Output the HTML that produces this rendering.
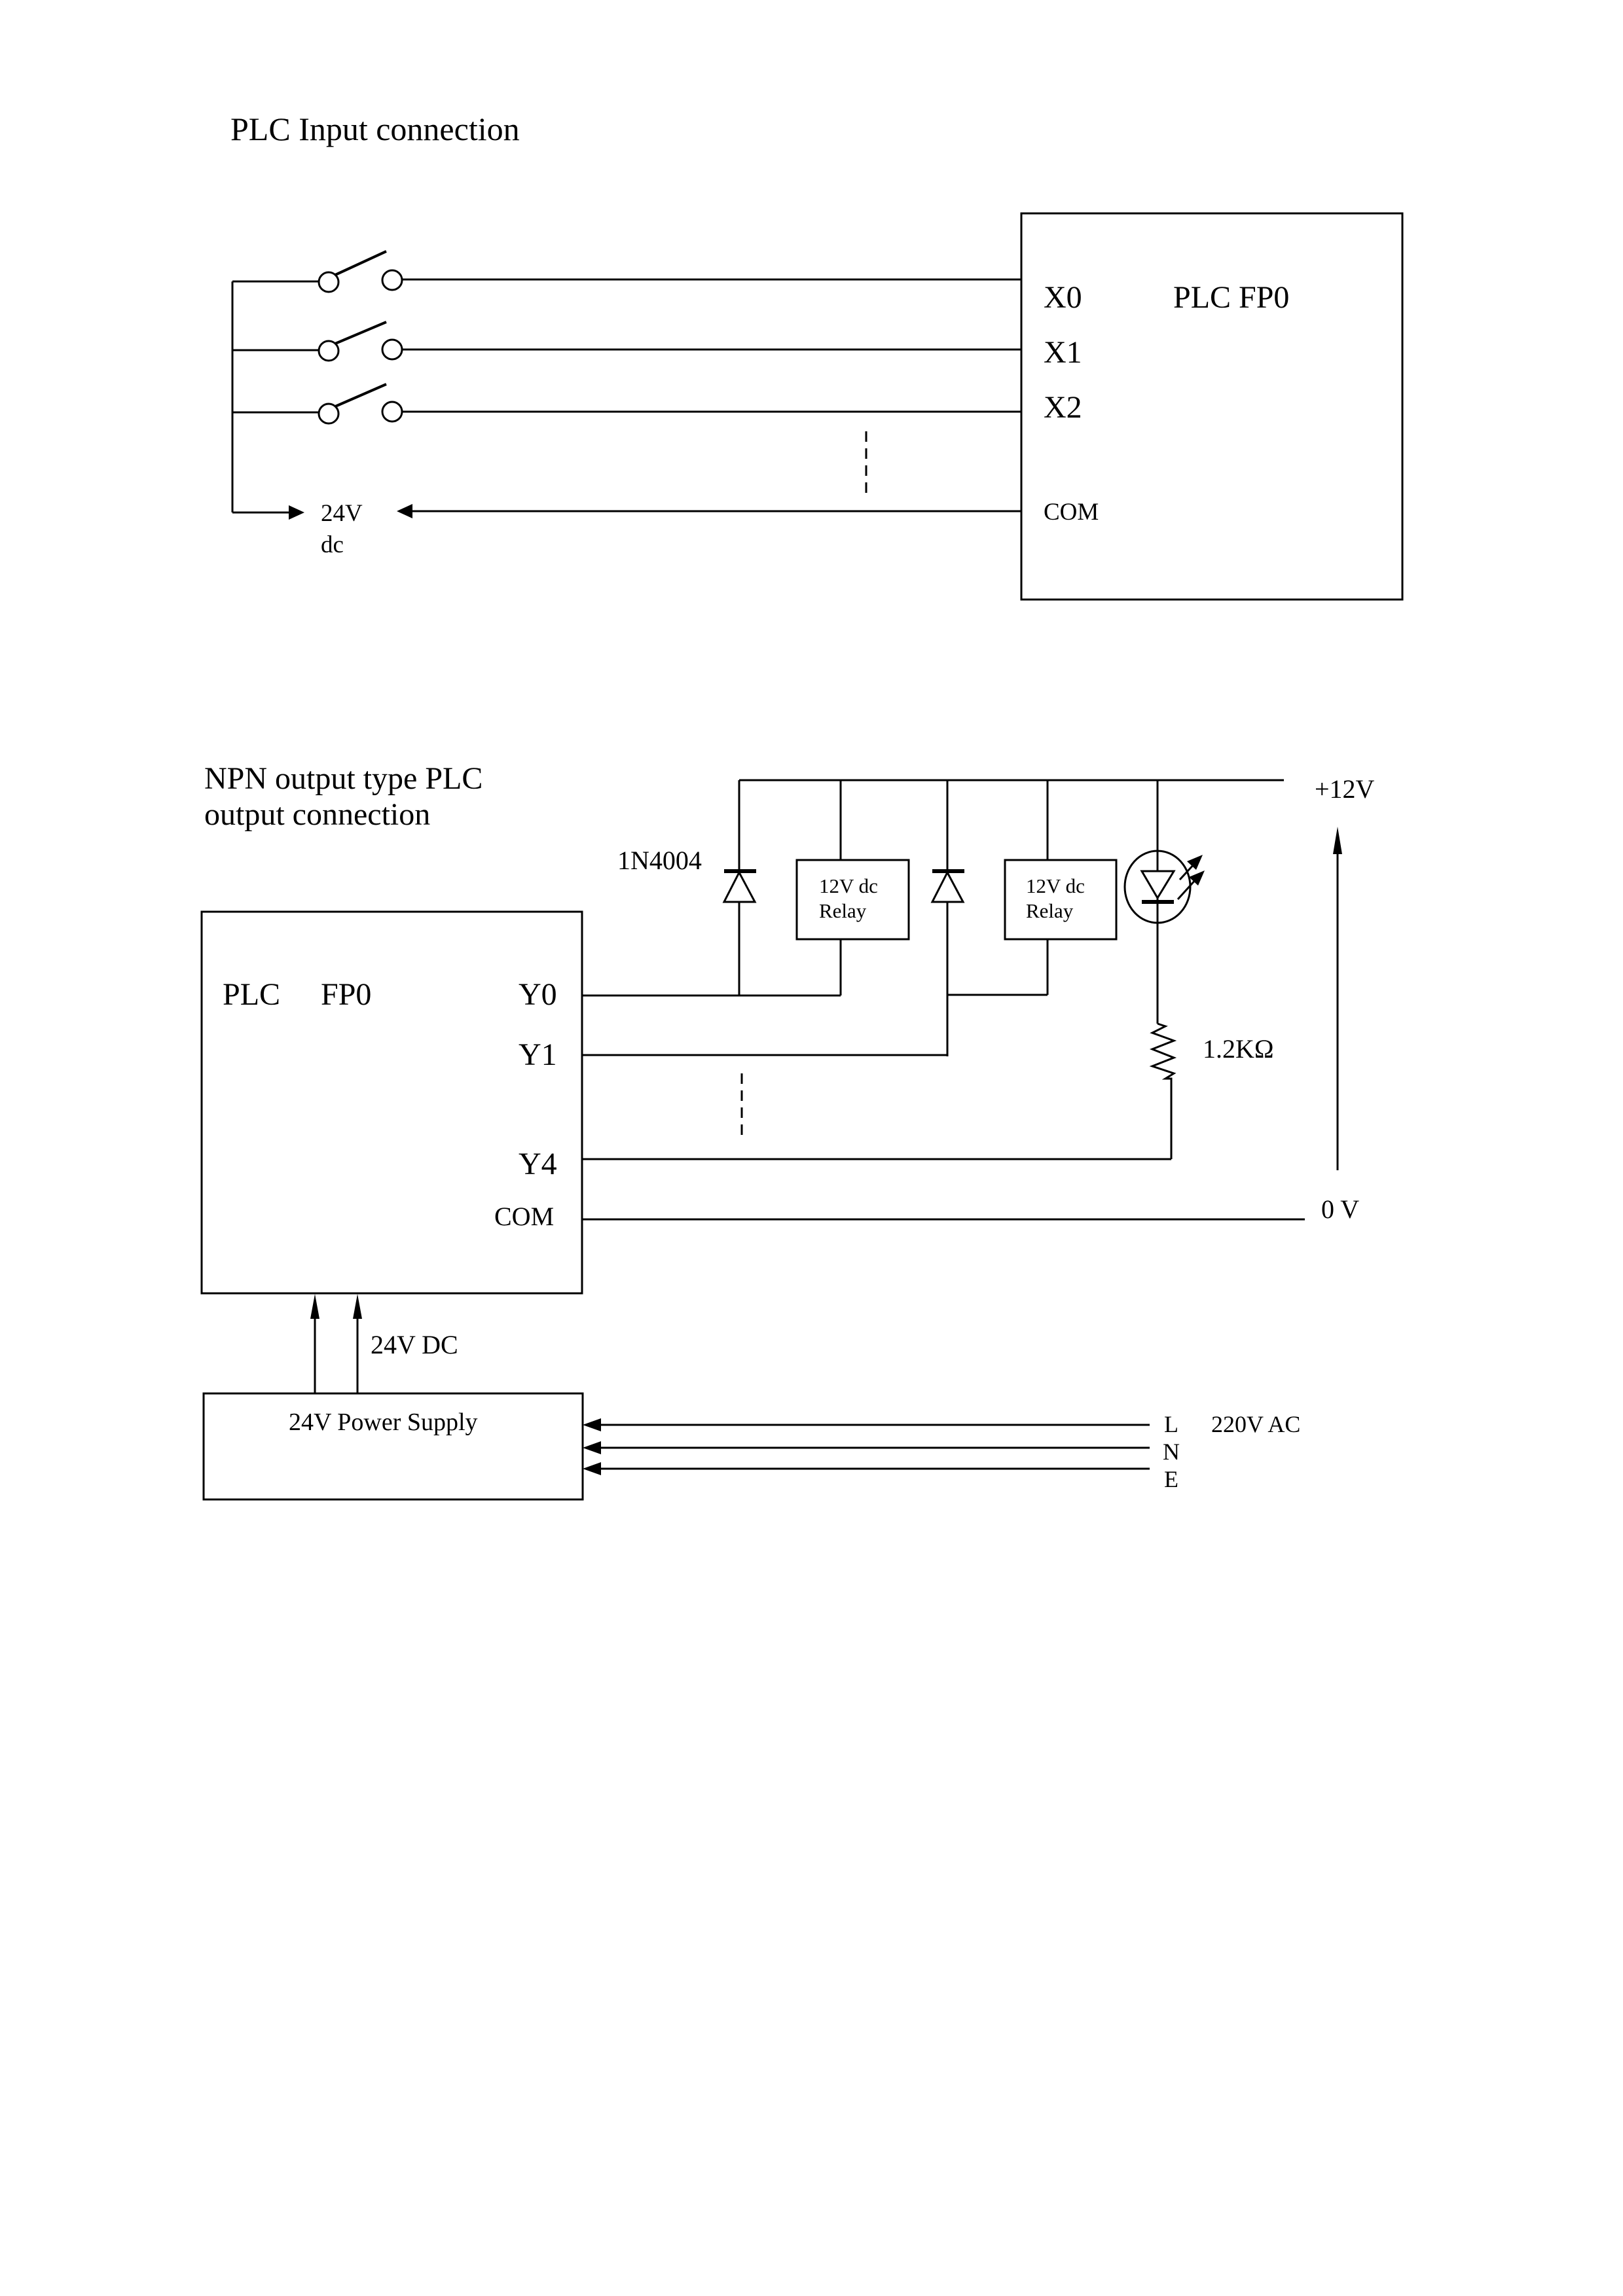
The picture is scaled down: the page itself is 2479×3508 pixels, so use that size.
<!DOCTYPE html>
<html><head><meta charset="utf-8"><style>
html,body{margin:0;padding:0;background:#fff;}
svg{display:block;}
text{font-family:"Liberation Serif",serif;fill:#000;}
</style></head><body>
<svg width="2479" height="3508" viewBox="0 0 2479 3508" xmlns="http://www.w3.org/2000/svg">
<defs>
<marker id="ah" markerWidth="10" markerHeight="8" refX="10" refY="4" orient="auto" markerUnits="userSpaceOnUse" viewBox="0 0 10 8">
</marker>
</defs>
<rect width="2479" height="3508" fill="#fff"/>
<g stroke="#000" stroke-width="3" fill="none">
<!-- TOP SECTION -->
<rect x="1560" y="326" width="582" height="590"/>
<line x1="355" y1="430" x2="355" y2="783"/>
<!-- switches -->
<line x1="355" y1="430" x2="486" y2="430"/>
<line x1="355" y1="535" x2="486" y2="535"/>
<line x1="355" y1="630" x2="486" y2="630"/>
<circle cx="502" cy="431" r="15"/><circle cx="599" cy="428" r="15"/>
<circle cx="502" cy="536" r="15"/><circle cx="599" cy="534" r="15"/>
<circle cx="502" cy="632" r="15"/><circle cx="599" cy="629" r="15"/>
<line x1="512" y1="420" x2="590" y2="384" stroke-width="4"/>
<line x1="512" y1="525" x2="590" y2="492" stroke-width="4"/>
<line x1="512" y1="621" x2="590" y2="587" stroke-width="4"/>
<line x1="614" y1="427" x2="1560" y2="427"/>
<line x1="614" y1="534" x2="1560" y2="534"/>
<line x1="614" y1="629" x2="1560" y2="629"/>
<line x1="1323" y1="659" x2="1323" y2="762" stroke-dasharray="16,10"/>
<line x1="355" y1="783" x2="445" y2="783"/>
<line x1="625" y1="781" x2="1560" y2="781"/>
<!-- BOTTOM SECTION -->
<rect x="308" y="1393" width="581" height="583"/>
<line x1="1129" y1="1192" x2="1961" y2="1192"/>
<!-- diode1 -->
<line x1="1129" y1="1192" x2="1129" y2="1521"/>
<polygon points="1106,1378 1153,1378 1129,1333" fill="#fff"/>
<line x1="1106" y1="1331" x2="1155" y2="1331" stroke-width="6"/>
<!-- relay1 -->
<line x1="1284" y1="1192" x2="1284" y2="1314"/>
<rect x="1217" y="1314" width="171" height="121"/>
<line x1="1284" y1="1435" x2="1284" y2="1521"/>
<line x1="889" y1="1521" x2="1284" y2="1521"/>
<!-- diode2 -->
<line x1="1447" y1="1192" x2="1447" y2="1614"/>
<polygon points="1424,1378 1471,1378 1447,1333" fill="#fff"/>
<line x1="1424" y1="1331" x2="1473" y2="1331" stroke-width="6"/>
<!-- relay2 -->
<line x1="1600" y1="1192" x2="1600" y2="1314"/>
<rect x="1535" y="1314" width="170" height="121"/>
<line x1="1600" y1="1435" x2="1600" y2="1520"/>
<line x1="1447" y1="1520" x2="1600" y2="1520"/>
<line x1="889" y1="1612" x2="1447" y2="1612"/>
<!-- LED -->
<line x1="1768" y1="1192" x2="1768" y2="1564"/>
<ellipse cx="1768" cy="1355" rx="50" ry="55"/>
<polygon points="1744,1331 1793,1331 1768,1372" fill="#fff"/>
<line x1="1744" y1="1378" x2="1793" y2="1378" stroke-width="6"/>
<line x1="1802" y1="1344" x2="1825" y2="1319"/>
<line x1="1799" y1="1374" x2="1828" y2="1342"/>
<!-- resistor -->
<polyline points="1768,1564 1780,1568 1760,1578 1793,1590 1760,1603 1793,1616 1760,1629 1793,1640 1780,1648 1789,1648 1789,1771"/>
<line x1="889" y1="1771" x2="1789" y2="1771"/>
<line x1="1133" y1="1640" x2="1133" y2="1742" stroke-dasharray="16,10"/>
<line x1="889" y1="1863" x2="1993" y2="1863"/>
<line x1="2043" y1="1788" x2="2043" y2="1300"/>
<!-- power supply -->
<rect x="311" y="2129" width="579" height="162"/>
<line x1="481" y1="2129" x2="481" y2="2010"/>
<line x1="546" y1="2129" x2="546" y2="2010"/>
<line x1="915" y1="2177" x2="1756" y2="2177"/>
<line x1="915" y1="2212" x2="1756" y2="2212"/>
<line x1="915" y1="2244" x2="1756" y2="2244"/>
</g>
<g fill="#000">
<polygon points="465,783 441,772 441,794"/>
<polygon points="606,781 630,770 630,792"/>
<polygon points="1837,1306 1813,1316 1827,1329"/>
<polygon points="1840,1330 1816,1340 1830,1353"/>
<polygon points="2043,1263 2036,1305 2050,1305"/>
<polygon points="481,1977 474,2015 488,2015"/>
<polygon points="546,1977 539,2015 553,2015"/>
<polygon points="890,2177 918,2167 918,2187"/>
<polygon points="890,2212 918,2202 918,2222"/>
<polygon points="890,2244 918,2234 918,2254"/>
</g>
<text x="352" y="214" font-size="50">PLC Input connection</text>
<text x="1594" y="470" font-size="48">X0</text>
<text x="1792" y="470" font-size="48">PLC FP0</text>
<text x="1594" y="554" font-size="48">X1</text>
<text x="1594" y="638" font-size="48">X2</text>
<text x="1594" y="794" font-size="37">COM</text>
<text x="490" y="796" font-size="37">24V</text>
<text x="490" y="844" font-size="37">dc</text>

<text x="312" y="1205" font-size="48">NPN output type PLC</text>
<text x="312" y="1260" font-size="48">output connection</text>
<text x="943" y="1328" font-size="40">1N4004</text>
<text x="2008" y="1219" font-size="40">+12V</text>
<text x="1251" y="1364" font-size="31">12V dc</text>
<text x="1251" y="1402" font-size="31">Relay</text>
<text x="1567" y="1364" font-size="31">12V dc</text>
<text x="1567" y="1402" font-size="31">Relay</text>
<text x="1837" y="1616" font-size="40">1.2KΩ</text>
<text x="340" y="1535" font-size="48">PLC</text>
<text x="490" y="1535" font-size="48">FP0</text>
<text x="792" y="1535" font-size="48">Y0</text>
<text x="792" y="1627" font-size="48">Y1</text>
<text x="792" y="1794" font-size="48">Y4</text>
<text x="755" y="1872" font-size="40">COM</text>
<text x="2018" y="1861" font-size="40">0 V</text>
<text x="566" y="2068" font-size="40">24V DC</text>
<text x="441" y="2185" font-size="38">24V Power Supply</text>
<text x="1778" y="2188" font-size="36">L</text>
<text x="1776" y="2230" font-size="36">N</text>
<text x="1778" y="2272" font-size="36">E</text>
<text x="1850" y="2188" font-size="36">220V AC</text>
</svg>
</body></html>
